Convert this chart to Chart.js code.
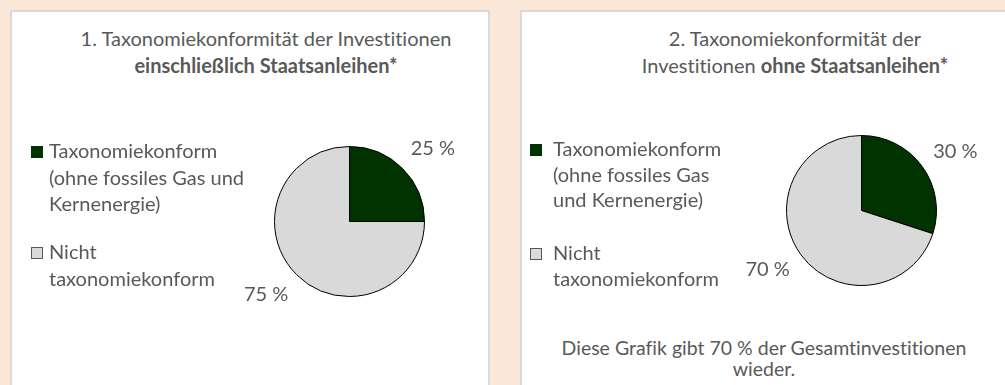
<!DOCTYPE html>
<html lang="de">
<head>
<meta charset="utf-8">
<script src="https://cdn.jsdelivr.net/npm/chart.js@4/dist/chart.umd.min.js"></script>
<style>
  html, body { margin: 0; padding: 0; }
  body { width: 1005px; height: 385px; background: #FCE8D8; position: relative; overflow: hidden;
         font-family: Lato, "Open Sans", sans-serif; color: #595959;
         font-variant-ligatures: none; font-feature-settings: "liga" 0, "clig" 0; }
  .panel { position: absolute; background: #fff; border: 2px solid #D9D9D9; box-sizing: border-box; }
  .title, .note { position: absolute; text-align: center; white-space: nowrap; font-size: 20px; transform: translateX(-50%); }
  .title div { height: 27px; line-height: 27px; }
  .note { font-size: 19.5px; }
  .note div { height: 21px; line-height: 21px; }
  canvas.layer { position: absolute; left: 0; top: 0; }
</style>
</head>
<body>
<div class="panel" style="left:10px; top:10px; width:480px; height:400px;"></div>
<div class="panel" style="left:520px; top:10px; width:500px; height:400px;"></div>

<div class="title" style="left:266px; top:25px;">
  <div>1. Taxonomiekonformität der Investitionen</div>
  <div><b>einschließlich Staatsanleihen*</b></div>
</div>
<div class="title" style="left:795px; top:25px;">
  <div>2. Taxonomiekonformität der</div>
  <div>Investitionen <b>ohne Staatsanleihen*</b></div>
</div>
<div class="note" style="left:764px; top:337px;">
  <div>Diese Grafik gibt 70 % der Gesamtinvestitionen</div>
  <div>wieder.</div>
</div>

<div style="position:absolute; left:0; top:0; width:1005px; height:385px;"><canvas id="pie1" class="layer"></canvas></div>
<div style="position:absolute; left:0; top:0; width:1005px; height:385px;"><canvas id="pie2" class="layer"></canvas></div>

<script>
// Categories and shares
const categories = ['Taxonomiekonform (ohne fossiles Gas und Kernenergie)', 'Nicht taxonomiekonform'];
const sharesWithBonds = [25, 75];
const sharesWithoutBonds = [30, 70];
const sliceColors = ['#013301', '#D9D9D9'];

// Legend text, wrapped per panel
const legendLines1 = [['Taxonomiekonform', '(ohne fossiles Gas und', 'Kernenergie)'], ['Nicht', 'taxonomiekonform']];
const legendLines2 = [['Taxonomiekonform', '(ohne fossiles Gas', 'und Kernenergie)'], ['Nicht', 'taxonomiekonform']];

const TEXT = '#595959';
const FONT = '20px Lato, "Open Sans", sans-serif';

// Draws the percentage labels outside each slice, near its middle angle
const sliceLabels = {
  id: 'sliceLabels',
  afterDatasetsDraw(chart) {
    const ctx = chart.ctx;
    const ds = chart.data.datasets[0];
    const meta = chart.getDatasetMeta(0);
    ctx.save();
    ctx.font = FONT;
    ctx.fillStyle = TEXT;
    ctx.textAlign = 'center';
    ctx.textBaseline = 'middle';
    meta.data.forEach((arc, i) => {
      const mid = (arc.startAngle + arc.endAngle) / 2 + 0.065;
      const r = arc.outerRadius + 36;
      ctx.fillText(ds.data[i] + ' %', arc.x + Math.cos(mid) * r, arc.y + Math.sin(mid) * r);
    });
    ctx.restore();
  }
};

// Draws the legend block (square marker + wrapped text) left of the pie
const sideLegend = {
  id: 'sideLegend',
  afterDraw(chart, args, opts) {
    const ctx = chart.ctx;
    const ds = chart.data.datasets[0];
    ctx.save();
    ctx.font = FONT;
    ctx.textAlign = 'left';
    ctx.textBaseline = 'middle';
    opts.lines.forEach((lines, i) => {
      const y0 = opts.itemY[i];
      ctx.fillStyle = ds.backgroundColor[i];
      ctx.fillRect(opts.boxX, y0 - 6, 12, 12);
      if (i === 1) {
        ctx.strokeStyle = '#595959';
        ctx.lineWidth = 1;
        ctx.strokeRect(opts.boxX + 0.5, y0 - 5.5, 11, 11);
      }
      ctx.fillStyle = TEXT;
      lines.forEach((t, k) => ctx.fillText(t, opts.textX, y0 + k * opts.lineHeight));
    });
    ctx.restore();
  }
};

function makePie(id, values, padding, legendOpts) {
  return new Chart(document.getElementById(id), {
    type: 'pie',
    data: {
      labels: categories,
      datasets: [{
        data: values,
        backgroundColor: sliceColors,
        borderColor: '#000000',
        borderWidth: 1,
        hoverOffset: 0,
        offset: 0
      }]
    },
    options: {
      responsive: true,
      maintainAspectRatio: false,
      animation: false,
      events: [],
      layout: { padding },
      plugins: {
        legend: { display: false },
        title: { display: false },
        tooltip: { enabled: false },
        sideLegend: legendOpts
      }
    },
    plugins: [sliceLabels, sideLegend]
  });
}

makePie('pie1', sharesWithBonds,
  { left: 274, right: 580, top: 146, bottom: 88 },
  { lines: legendLines1, boxX: 31, textX: 49, itemY: [152, 253], lineHeight: 26.5 });

makePie('pie2', sharesWithoutBonds,
  { left: 786, right: 68, top: 135, bottom: 99 },
  { lines: legendLines2, boxX: 530, textX: 553, itemY: [150, 254], lineHeight: 25.5 });
</script>
</body>
</html>
